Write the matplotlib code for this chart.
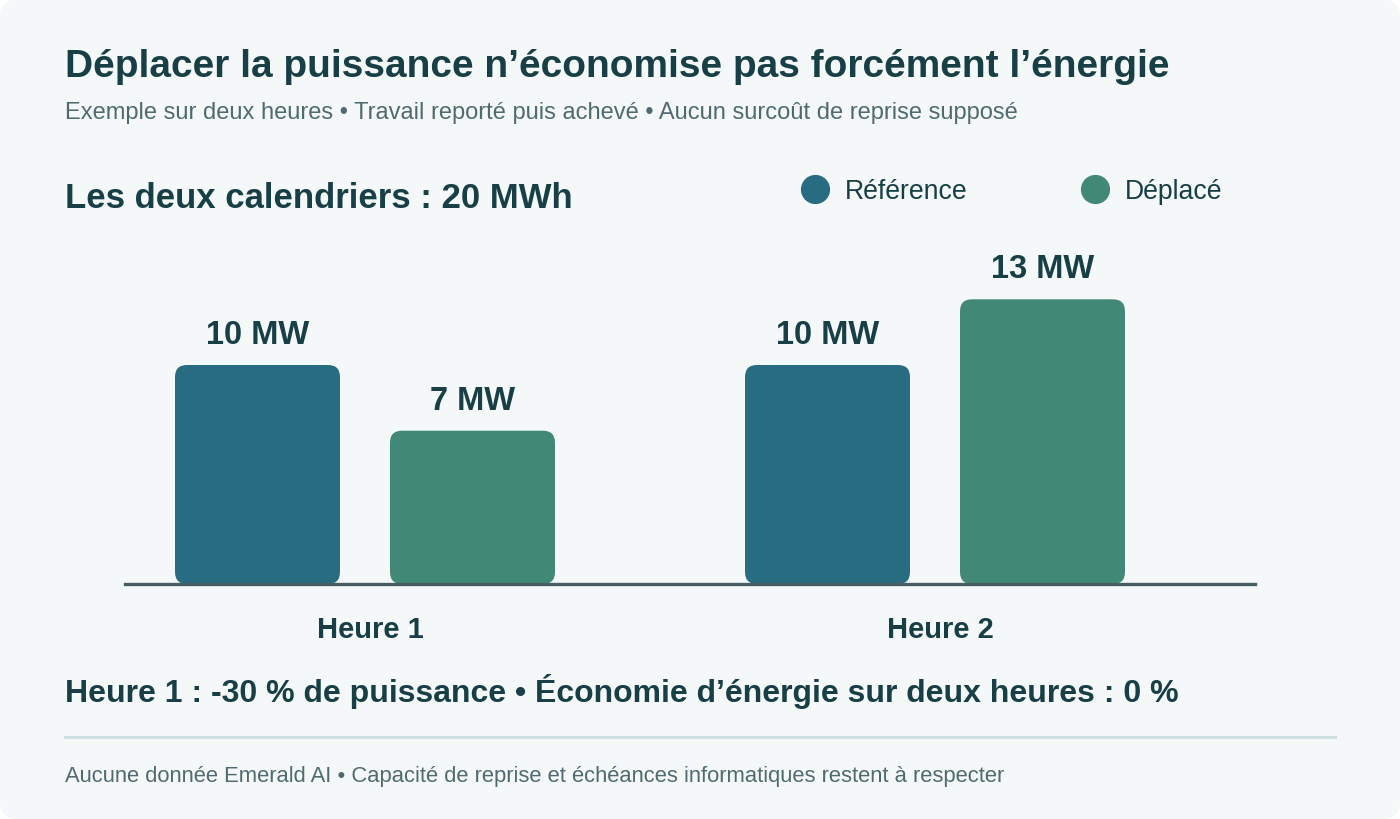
import numpy as np
import matplotlib
matplotlib.use("Agg")
import matplotlib.pyplot as plt
from matplotlib.patches import FancyBboxPatch

plt.rcParams['font.family'] = ['Liberation Sans', 'DejaVu Sans']

# ------------------------ data ------------------------
hours = ['Heure 1', 'Heure 2']
series = ['Référence', 'Déplacé']
reference_mw = [10, 10]
shifted_mw = [7, 13]

title = "Déplacer la puissance n’économise pas forcément l’énergie"
subtitle = "Exemple sur deux heures • Travail reporté puis achevé • Aucun surcoût de reprise supposé"
panel_title = "Les deux calendriers : 20 MWh"
summary = "Heure 1 : -30 % de puissance • Économie d’énergie sur deux heures : 0 %"
footer = "Aucune donnée Emerald AI • Capacité de reprise et échéances informatiques restent à respecter"

# ------------------------ style ------------------------
W, H = 1400, 820
bg = '#F5F8F8'
dark = '#173F45'
grey = '#4F6B70'
c_ref = '#286C82'
c_shift = '#428876'
colors = [c_ref, c_shift]


def fx(px):
    return px / W


def fy(py):
    return 1 - py / H


fig = plt.figure(figsize=(W / 100, H / 100), dpi=100)
fig.patch.set_facecolor('white')

# card background
card = FancyBboxPatch((0, 0), W, H, boxstyle="round,pad=0,rounding_size=18",
                      transform=None, facecolor=bg, edgecolor='none', zorder=-5)
fig.patches.append(card)

# ------------------------ texts ------------------------
fig.text(fx(65), fy(67), title, fontsize=28, fontweight='bold', color=dark, va='center')
fig.text(fx(65), fy(113), subtitle, fontsize=17, color=grey, va='center')
fig.text(fx(65), fy(198), panel_title, fontsize=25, fontweight='bold', color=dark, va='center')
fig.text(fx(65), fy(692), summary, fontsize=23, fontweight='bold', color=dark, va='center')
fig.text(fx(65), fy(777), footer, fontsize=15.8, color=grey, va='center')

# divider
fig.add_artist(plt.Line2D([fx(65), fx(1335)], [fy(738), fy(738)],
                          color='#CFE0E0', linewidth=2.2, transform=fig.transFigure))

# legend
for name, col, cx in zip(series, colors, [815, 1095]):
    fig.add_artist(plt.Line2D([fx(cx)], [fy(190)], marker='o', markersize=20,
                              color=col, linestyle='none', transform=fig.transFigure))
    fig.text(fx(cx + 30), fy(192), name, fontsize=19.2, color=dark, va='center')

# ------------------------ bars ------------------------
ax_left, ax_right = 125, 1255
ax_bottom, ax_top = 585, 250
ax = fig.add_axes([fx(ax_left), fy(ax_bottom), fx(ax_right - ax_left), (ax_bottom - ax_top) / H])
ax.set_facecolor('none')

px_per_x = 570.0
px_per_y = 21.9
centers = np.arange(len(hours))
x0 = -(365 - ax_left) / px_per_x
x1 = x0 + (ax_right - ax_left) / px_per_x
ax.set_xlim(x0, x1)
ax.set_ylim(0, (ax_bottom - ax_top) / px_per_y)

bar_w = 165 / px_per_x
offset = 107.5 / px_per_x
radius = 12 / px_per_x
aspect = px_per_x / px_per_y

for vals, col, sign in [(reference_mw, c_ref, -1), (shifted_mw, c_shift, 1)]:
    for c, v in zip(centers, vals):
        xc = c + sign * offset
        patch = FancyBboxPatch((xc - bar_w / 2, 0), bar_w, v,
                               boxstyle=f"round,pad=0,rounding_size={radius}",
                               mutation_aspect=aspect, facecolor=col,
                               edgecolor='none', zorder=2)
        ax.add_patch(patch)
        ax.annotate(f"{v} MW", (xc, v), xytext=(0, 15 / 1.389), textcoords='offset points',
                    ha='center', va='bottom', fontsize=23.5, fontweight='bold', color=dark)

ax.axhline(0, color='#465F64', linewidth=2.4, zorder=3, clip_on=False)

for c, lab in zip(centers, hours):
    ax.text(c + 5 / px_per_x, -45 / px_per_y, lab, ha='center', va='center',
            fontsize=21, fontweight='bold', color=dark)

for s in ax.spines.values():
    s.set_visible(False)
ax.set_xticks([])
ax.set_yticks([])

fig.savefig('out.png', dpi=100, facecolor=fig.get_facecolor())
